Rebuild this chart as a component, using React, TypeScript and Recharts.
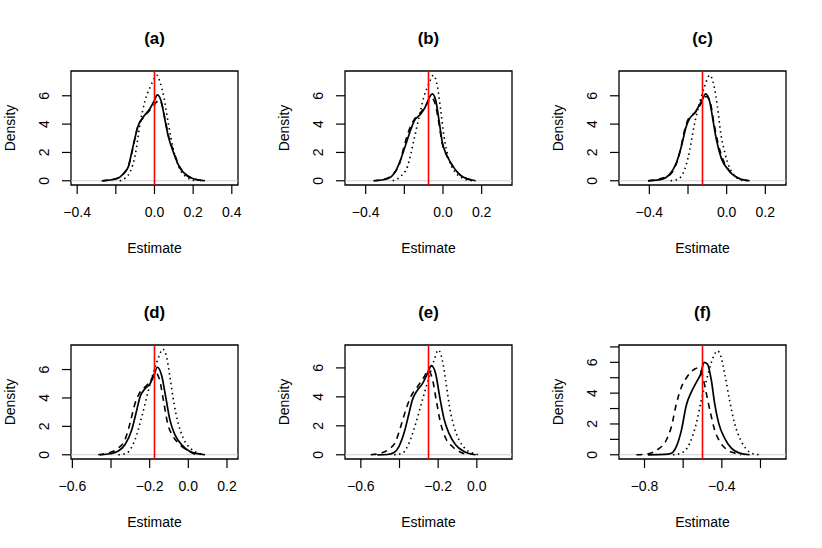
import React from 'react';
import { LineChart, Line, XAxis, YAxis, ReferenceLine, ReferenceArea } from 'recharts';

type Pt = [number, number];

const panelTitles = ['(a)', '(b)', '(c)', '(d)', '(e)', '(f)'];
const truths = [0, -0.075, -0.125, -0.175, -0.25, -0.5];
const yMaxes = [7.45, 7.45, 7.45, 7.43, 7.29, 6.85];
const xTicks = [
  [-0.4, -0.2, 0, 0.2, 0.4],
  [-0.4, -0.2, 0, 0.2],
  [-0.4, -0.2, 0, 0.2],
  [-0.6, -0.4, -0.2, 0, 0.2],
  [-0.6, -0.4, -0.2, 0],
  [-0.8, -0.6, -0.4, -0.2],
];
const xTickLabels = [
  [-0.4, 0, 0.2, 0.4],
  [-0.4, 0, 0.2],
  [-0.4, 0, 0.2],
  [-0.6, -0.2, 0, 0.2],
  [-0.6, -0.2, 0],
  [-0.8, -0.4],
];
const yTicks = [
  [0, 2, 4, 6],
  [0, 2, 4, 6],
  [0, 2, 4, 6],
  [0, 2, 4, 6],
  [0, 2, 4, 6],
  [0, 1, 2, 3, 4, 5, 6, 7],
];
const yTickLabels = [0, 2, 4, 6];

const aSolid: Pt[] = [[-0.273,0],[-0.196,0.14],[-0.161,0.5],[-0.135,1.0],[-0.118,2.0],[-0.084,3.9],[-0.058,4.5],[-0.023,5.1],[-0.003,5.6],[0.015,6.07],[0.037,5.5],[0.054,4.3],[0.072,3.1],[0.098,2.0],[0.132,0.9],[0.167,0.37],[0.201,0.14],[0.261,0]];
const aDashed: Pt[] = [[-0.27,0],[-0.2,0.15],[-0.16,0.5],[-0.135,1.05],[-0.115,2.1],[-0.087,3.8],[-0.058,4.45],[-0.03,4.9],[-0.01,5.2],[0.01,5.55],[0.025,5.7],[0.04,5.3],[0.055,4.3],[0.072,3.2],[0.098,2.1],[0.132,0.95],[0.167,0.4],[0.2,0.15],[0.26,0]];
const aDotted: Pt[] = [[-0.18,0],[-0.15,0.2],[-0.127,0.6],[-0.1,1.8],[-0.075,4.0],[-0.05,5.6],[-0.023,6.6],[0.003,7.3],[0.011,7.45],[0.028,7.0],[0.05,5.8],[0.072,4.0],[0.098,2.2],[0.132,0.8],[0.167,0.25],[0.21,0]];

const bSolid: Pt[] = [[-0.357,0],[-0.288,0.14],[-0.245,0.68],[-0.219,1.5],[-0.193,2.55],[-0.167,3.6],[-0.15,4.2],[-0.116,4.7],[-0.09,5.25],[-0.072,5.84],[-0.055,6.14],[-0.038,5.7],[-0.021,4.3],[-0.003,2.67],[0.022,1.73],[0.057,0.91],[0.092,0.37],[0.126,0.14],[0.169,0]];
const bDashed: Pt[] = [[-0.36,0],[-0.305,0.1],[-0.26,0.45],[-0.225,1.2],[-0.2,2.5],[-0.175,3.6],[-0.15,4.3],[-0.12,4.75],[-0.092,5.25],[-0.07,5.7],[-0.058,5.85],[-0.042,5.5],[-0.025,4.4],[-0.005,2.7],[0.02,1.75],[0.055,0.95],[0.09,0.4],[0.125,0.15],[0.165,0]];
const bDotted: Pt[] = [[-0.26,0],[-0.22,0.3],[-0.184,1.0],[-0.15,2.9],[-0.124,4.5],[-0.098,5.95],[-0.072,6.9],[-0.05,7.45],[-0.029,6.66],[-0.012,5.0],[0.005,3.14],[0.031,1.5],[0.066,0.56],[0.108,0.14],[0.152,0]];

const cSolid: Pt[] = [[-0.407,0],[-0.338,0.1],[-0.295,0.45],[-0.26,1.27],[-0.234,2.44],[-0.209,3.84],[-0.191,4.4],[-0.165,4.8],[-0.14,5.37],[-0.122,5.84],[-0.109,6.14],[-0.088,5.6],[-0.071,4.3],[-0.053,2.9],[-0.028,1.6],[0.007,0.8],[0.041,0.33],[0.076,0.1],[0.119,0]];
const cDashed: Pt[] = [[-0.407,0],[-0.303,0.33],[-0.269,0.91],[-0.243,1.97],[-0.217,3.61],[-0.2,4.31],[-0.157,4.9],[-0.131,5.49],[-0.105,5.95],[-0.084,5.49],[-0.066,4.08],[-0.045,2.67],[-0.019,1.5],[0.015,0.68],[0.05,0.28],[0.093,0.05],[0.11,0]];
const cDotted: Pt[] = [[-0.29,0],[-0.26,0.08],[-0.234,0.33],[-0.2,1.6],[-0.165,4.1],[-0.14,5.5],[-0.114,6.66],[-0.088,7.45],[-0.067,6.8],[-0.048,5.25],[-0.031,3.4],[-0.01,2.0],[0.016,0.9],[0.041,0.37],[0.084,0]];

const dSolid: Pt[] = [[-0.457,0],[-0.405,0.07],[-0.362,0.26],[-0.328,0.7],[-0.293,1.74],[-0.267,3.14],[-0.25,4.07],[-0.224,4.65],[-0.198,5.0],[-0.178,5.58],[-0.16,6.16],[-0.138,5.58],[-0.117,4.07],[-0.095,2.44],[-0.069,1.4],[-0.034,0.7],[0.009,0.23],[0.086,0]];
const dDashed: Pt[] = [[-0.466,0],[-0.405,0.16],[-0.362,0.47],[-0.328,1.05],[-0.302,2.2],[-0.276,3.6],[-0.25,4.4],[-0.216,4.88],[-0.19,5.35],[-0.172,5.8],[-0.15,5.35],[-0.129,3.84],[-0.107,2.2],[-0.078,1.28],[-0.043,0.7],[0.0,0.28],[0.043,0]];
const dDotted: Pt[] = [[-0.362,0],[-0.319,0.12],[-0.276,1.05],[-0.241,2.67],[-0.207,4.5],[-0.172,6.16],[-0.15,6.98],[-0.133,7.44],[-0.112,6.86],[-0.095,5.47],[-0.074,3.6],[-0.052,2.2],[-0.026,1.16],[0.009,0.47],[0.052,0.12],[0.078,0]];

const eSolid: Pt[] = [[-0.515,0],[-0.463,0.02],[-0.428,0.16],[-0.403,0.57],[-0.377,1.48],[-0.351,2.85],[-0.334,3.77],[-0.308,4.45],[-0.282,4.9],[-0.256,5.6],[-0.235,6.16],[-0.213,5.6],[-0.192,4.0],[-0.17,2.5],[-0.144,1.48],[-0.109,0.68],[-0.066,0.23],[-0.006,0]];
const eDashed: Pt[] = [[-0.549,0],[-0.497,0.11],[-0.454,0.39],[-0.42,0.91],[-0.394,1.94],[-0.368,3.08],[-0.342,4.0],[-0.308,4.68],[-0.273,5.37],[-0.253,5.82],[-0.23,5.25],[-0.21,3.77],[-0.187,2.17],[-0.161,1.14],[-0.127,0.57],[-0.084,0.18],[-0.04,0]];
const eDotted: Pt[] = [[-0.428,0],[-0.385,0.11],[-0.351,0.8],[-0.316,2.17],[-0.282,3.77],[-0.247,5.37],[-0.222,6.5],[-0.199,7.24],[-0.178,6.5],[-0.161,5.14],[-0.141,3.3],[-0.118,1.94],[-0.092,1.03],[-0.058,0.39],[-0.015,0.09],[0.011,0]];

const fSolid: Pt[] = [[-0.782,0],[-0.696,0.02],[-0.661,0.1],[-0.635,0.54],[-0.609,1.6],[-0.584,3.2],[-0.558,4.07],[-0.532,4.7],[-0.509,5.25],[-0.492,6.0],[-0.475,5.9],[-0.454,4.82],[-0.437,3.32],[-0.416,2.04],[-0.385,1.07],[-0.351,0.43],[-0.308,0.11],[-0.256,0]];
const fDashed: Pt[] = [[-0.842,0],[-0.782,0.06],[-0.73,0.36],[-0.687,0.96],[-0.661,1.82],[-0.635,3.32],[-0.609,4.4],[-0.575,5.14],[-0.54,5.57],[-0.52,5.64],[-0.503,5.25],[-0.48,3.97],[-0.458,2.68],[-0.437,1.6],[-0.411,0.86],[-0.377,0.36],[-0.334,0.11],[-0.3,0]];
const fDotted: Pt[] = [[-0.653,0],[-0.609,0.11],[-0.566,0.75],[-0.532,2.04],[-0.506,3.54],[-0.48,4.82],[-0.454,6.0],[-0.437,6.54],[-0.423,6.75],[-0.406,6.43],[-0.385,5.25],[-0.36,3.54],[-0.334,2.04],[-0.303,0.96],[-0.273,0.36],[-0.23,0.04],[-0.2,0]];

const solids = [aSolid, bSolid, cSolid, dSolid, eSolid, fSolid];
const dasheds = [aDashed, bDashed, cDashed, dDashed, eDashed, fDashed];
const dotteds = [aDotted, bDotted, cDotted, dDotted, eDotted, fDotted];

const FONT = '"Liberation Sans", Arial, Helvetica, sans-serif';
const PW = 274;
const PH = 274;

const toRows = (pts: Pt[]) => pts.map(([x, y]) => ({ x, y }));
const fmt = (v: number) => {
  const s = (Math.abs(v) < 1e-9 ? 0 : v).toFixed(1);
  return s.replace('-', '\u2212');
};

function Panel({ i }: { i: number }) {
  const truth = truths[i];
  const xHalf = 0.4 * 1.08;
  const xDomain: [number, number] = [truth - xHalf, truth + xHalf];
  const ym = yMaxes[i];
  const yDomain: [number, number] = [-0.04 * ym, 1.04 * ym];
  const labelsX = xTickLabels[i];

  const XTick = (props: any) => {
    const { x, y, payload } = props;
    const v = payload.value as number;
    const show = labelsX.some((l) => Math.abs(l - v) < 1e-9);
    if (!show) return <g />;
    return (
      <text x={x} y={y} dy="0.71em" textAnchor="middle" fontSize={14} fill="#000" fontFamily={FONT}>
        {fmt(v)}
      </text>
    );
  };
  const YTick = (props: any) => {
    const { x, y, payload } = props;
    const v = payload.value as number;
    if (!yTickLabels.includes(v)) return <g />;
    return (
      <text x={x} y={y} transform={`rotate(-90 ${x} ${y})`} textAnchor="middle" fontSize={14} fill="#000" fontFamily={FONT}>
        {String(v)}
      </text>
    );
  };

  const col = i % 3;
  const row = Math.floor(i / 3);
  const cx = 71 + (238 - 71) / 2;
  const cy = 71 + (185 - 71) / 2;

  return (
    <div style={{ position: 'absolute', left: col * PW, top: row * PH, width: PW, height: PH }}>
      <LineChart width={PW} height={PH} margin={{ top: 71, right: 36, bottom: 49, left: 31 }}>
        <XAxis
          type="number"
          dataKey="x"
          domain={xDomain}
          allowDataOverflow
          ticks={xTicks[i]}
          interval={0}
          height={40}
          axisLine={false}
          tickLine={{ stroke: '#000', strokeWidth: 1.2 }}
          tickSize={9}
          tickMargin={13}
          tick={XTick}
        />
        <YAxis
          type="number"
          dataKey="y"
          domain={yDomain}
          allowDataOverflow
          ticks={yTicks[i]}
          interval={0}
          width={40}
          axisLine={false}
          tickLine={{ stroke: '#000', strokeWidth: 1.2 }}
          tickSize={9}
          tickMargin={13}
          tick={YTick}
        />
        <ReferenceArea
          x1={xDomain[0]}
          x2={xDomain[1]}
          y1={yDomain[0]}
          y2={yDomain[1]}
          fill="none"
          fillOpacity={0}
          stroke="#000"
          strokeWidth={1.3}
          ifOverflow="visible"
        />
        <ReferenceLine y={0} stroke="#d0d0d0" strokeWidth={1} />
        <Line data={toRows(dotteds[i])} dataKey="y" type="monotone" stroke="#000" strokeWidth={1.6} strokeDasharray="1.5 3.5" dot={false} isAnimationActive={false} />
        <Line data={toRows(dasheds[i])} dataKey="y" type="monotone" stroke="#000" strokeWidth={1.6} strokeDasharray="6 5" dot={false} isAnimationActive={false} />
        <Line data={toRows(solids[i])} dataKey="y" type="monotone" stroke="#000" strokeWidth={1.7} dot={false} isAnimationActive={false} />
        <ReferenceLine x={truth} stroke="#ff0000" strokeWidth={1.6} />
      </LineChart>
      <svg width={PW} height={PH} style={{ position: 'absolute', left: 0, top: 0, pointerEvents: 'none' }}>
        <text x={cx} y={44} textAnchor="middle" fontSize={16.8} fontWeight="bold" fontFamily={FONT} fill="#000">
          {panelTitles[i]}
        </text>
        <text x={cx} y={252.5} textAnchor="middle" fontSize={14} fontFamily={FONT} fill="#000">
          Estimate
        </text>
        <text x={14.5} y={cy} transform={`rotate(-90 14.5 ${cy})`} textAnchor="middle" fontSize={14} fontFamily={FONT} fill="#000">
          Density
        </text>
      </svg>
    </div>
  );
}

export default function App() {
  return (
    <div style={{ position: 'absolute', left: 0, top: 0, width: 822, height: 548, background: '#fff' }}>
      {panelTitles.map((_, i) => (
        <Panel key={i} i={i} />
      ))}
    </div>
  );
}
